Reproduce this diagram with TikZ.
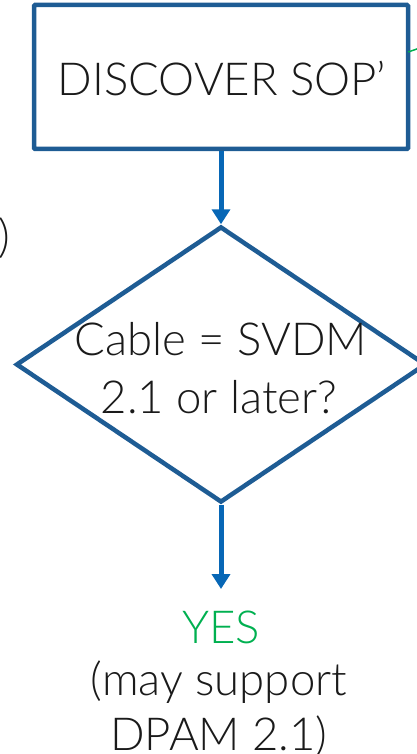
\documentclass[tikz,border=0pt]{standalone}
\usepackage{fontspec}
\setmainfont{Lato}[UprightFont={* Light}]
\usetikzlibrary{arrows.meta,shapes.geometric,calc}
\definecolor{frameblue}{HTML}{1E5C94}
\definecolor{flowblue}{HTML}{0767B6}
\definecolor{yesgreen}{HTML}{00B050}
\definecolor{inktext}{HTML}{1A1A1A}
\tikzset{
  bigtext/.style={font=\fontsize{45.5}{52}\selectfont, text=inktext, inner sep=0pt},
  process/.style={draw=frameblue, line width=4.5pt, rectangle, inner sep=0pt,
    minimum width=374pt, minimum height=144pt, rounded corners=1pt},
  decision/.style={draw=frameblue, line width=4.5pt, diamond, inner sep=0pt,
    minimum width=410pt, minimum height=276pt},
  flow/.style={draw=flowblue, line width=5pt,
    -{Triangle[width=18pt,length=15pt]}},
  link/.style={draw=yesgreen, line width=1.5pt}
}
\begin{document}
\begin{tikzpicture}[x=1pt,y=-1pt]
  \useasboundingbox (0,0) rectangle (416,754);

  % process box
  \node[process] (sop) at (221,77) {};
  \node[bigtext, anchor=base] (soptext) at (222,96) {DISCOVER SOP’};

  % decision diamond and its question
  \node[decision] (cable) at (221,364.5) {};
  \node[bigtext, anchor=base] (q1) at (221,355) {Cable = SVDM};
  \node[bigtext, anchor=base] (q2) at (219,413) {2.1 or later?};

  % closing bracket of a note further left
  \node[bigtext, anchor=base east] (paren) at (10,252) {)};

  % outcome
  \coordinate (yesin) at (221,589);
  \node[bigtext, anchor=base, text=yesgreen] (yes) at (221,643) {YES};
  \node[bigtext, anchor=base] (note1) at (219,695) {(may support};
  \node[bigtext, anchor=base] (note2) at (219,750) {DPAM 2.1)};

  % connectors
  \draw[flow] (sop.south) -- (cable.north);
  \draw[flow] (cable.south) -- (yesin);
  \coordinate (gout) at (434,43);
  \draw[link] ($(sop.east)+(-2,-25)$) -- (gout);
\end{tikzpicture}
\end{document}
